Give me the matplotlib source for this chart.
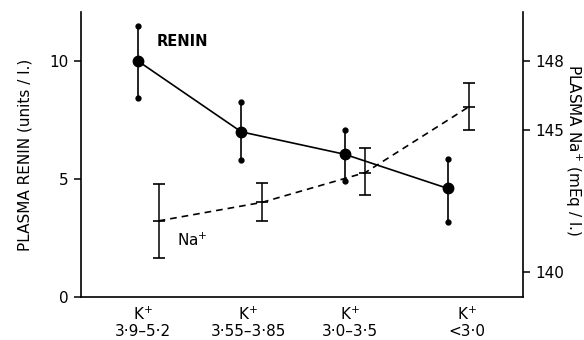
import numpy as np
import matplotlib
matplotlib.use('Agg')
import matplotlib.pyplot as plt

# potassium groups (x categories)
categories = ['K$^{+}$\n3·9–5·2', 'K$^{+}$\n3·55–3·85', 'K$^{+}$\n3·0–3·5', 'K$^{+}$\n<3·0']
label_offsets = [0.05, 0.065, 0.05, 0.18]

# plasma renin, units / l.
renin = [10.0, 7.0, 6.05, 4.6]
renin_hi = [11.5, 8.25, 7.08, 5.85]
renin_lo = [8.45, 5.8, 4.92, 3.18]
renin_ticks = [0, 5, 10]

# plasma Na+, mEq / l.
sodium = [141.8, 142.45, 143.5, 146.0]
sodium_hi = [143.1, 143.15, 144.35, 147.05]
sodium_lo = [140.5, 141.8, 142.7, 145.0]
sodium_ticks = [140, 145, 148]

# the printed Na axis is not evenly spaced: knots tie Na values to renin-axis height
na_knots = [139.12, 140.0, 145.0, 148.0, 150.13]
height_knots = [0.0, 1.06, 7.08, 10.0, 12.08]


def na_fwd(v):
    return np.interp(v, na_knots, height_knots)


def na_inv(v):
    return np.interp(v, height_knots, na_knots)


plt.rcParams['font.family'] = ['DejaVu Sans']
plt.rcParams['mathtext.default'] = 'regular'
fig = plt.figure(figsize=(5.84, 3.40), dpi=100)
ax = fig.add_axes([0.1387, 0.1265, 0.7568, 0.8382])

x = np.arange(len(categories))
x_na = x + 0.2

# renin: solid line, big dots, error bars ending in small dots
ax.plot(x, renin, color='black', lw=1.2, zorder=3)
ax.errorbar(x, renin,
            yerr=[np.array(renin) - np.array(renin_lo), np.array(renin_hi) - np.array(renin)],
            fmt='o', color='black', ms=7.5, elinewidth=1.2, capsize=0, zorder=4)
ax.plot(x, renin_hi, 'o', color='black', ms=3.5, lw=0)
ax.plot(x, renin_lo, 'o', color='black', ms=3.5, lw=0)

ax.set_xlim(-0.552, 3.727)
ax.set_ylim(0, 12.08)
ax.set_yticks(renin_ticks)
ax.set_yticklabels([str(t) for t in renin_ticks])
ax.set_xticks(x + np.array(label_offsets))
ax.set_xticklabels(categories, fontsize=11, linespacing=1.1)
ax.tick_params(axis='x', length=0, pad=6)
ax.tick_params(axis='y', direction='out', length=5, width=1.1, labelsize=11, pad=4)
ax.spines['top'].set_visible(False)
ax.spines['right'].set_visible(False)
for s in ['left', 'bottom']:
    ax.spines[s].set_linewidth(1.2)
ax.set_ylabel('PLASMA RENIN (units / l.)', fontsize=11, labelpad=12)

# sodium on right-hand axis
ax2 = ax.twinx()
ax2.set_yscale('function', functions=(na_fwd, na_inv))
ax2.set_ylim(na_knots[0], na_knots[-1])
ax2.plot(x_na, sodium, color='black', lw=1.2, linestyle=(0, (4, 3)), zorder=3)
ax2.errorbar(x_na, sodium,
             yerr=[np.array(sodium) - np.array(sodium_lo), np.array(sodium_hi) - np.array(sodium)],
             fmt='_', color='black', ms=8, mew=1.2, elinewidth=1.1, capsize=4, capthick=1.1, zorder=4)
ax2.set_yticks(sodium_ticks)
ax2.set_yticklabels([str(t) for t in sodium_ticks])
ax2.yaxis.set_minor_locator(matplotlib.ticker.NullLocator())
ax2.tick_params(axis='y', direction='out', length=5, width=1.1, labelsize=11, pad=4)
ax2.spines['top'].set_visible(False)
ax2.spines['left'].set_visible(False)
ax2.spines['bottom'].set_visible(False)
ax2.spines['right'].set_linewidth(1.2)

ax.text(0.18, 10.85, 'RENIN', fontsize=10.5, fontweight='bold', va='center', ha='left')
ax.text(0.38, 2.4, 'Na$^{+}$', fontsize=11, va='center', ha='left')

fig.text(0.982, 0.56, 'PLASMA Na$^{+}$ (mEq / l.)', rotation=270, fontsize=11,
         ha='center', va='center')

fig.savefig('out.png', dpi=100, facecolor='white')
